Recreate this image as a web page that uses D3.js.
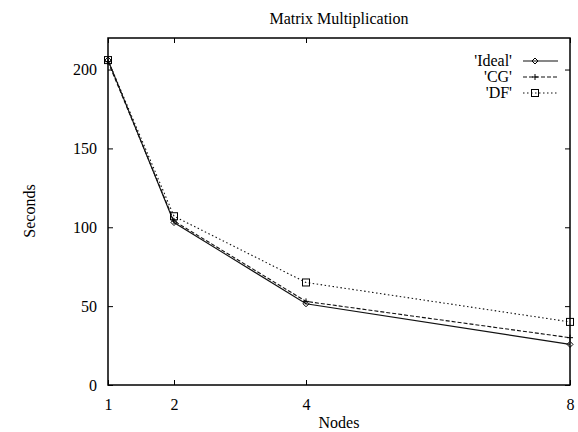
<!DOCTYPE html>
<html><head><meta charset="utf-8">
<script src="https://cdn.jsdelivr.net/npm/d3@7"></script>
<style>body{margin:0;background:#fff}svg text{font-family:"Liberation Serif","Times New Roman",serif !important;fill:#000}</style>
</head><body><svg id="c" width="578" height="432"></svg>
<script>
const nodes = [1, 2, 4, 8];
const ideal = [206, 103, 51.5, 25.75];
const cg = [205, 104, 53, 30];
const df = [206, 107, 65, 40];
const seriesNames = ["'Ideal'", "'CG'", "'DF'"];
const xTicks = [1, 2, 4, 8];
const yTicks = [0, 50, 100, 150, 200];

const svg = d3.select("#c");
const L = 108, R = 570, T = 38, B = 385;
const x = d3.scaleLinear().domain([1, 8]).range([L, R]);
const y = d3.scaleLinear().domain([0, 220]).range([B, T]);
const fs = 16;

svg.append("rect").attr("x", L).attr("y", T).attr("width", R - L).attr("height", B - T)
  .attr("fill", "none").attr("stroke", "#000").attr("stroke-width", 1.5);

const tl = 5;
const gl = svg.append("g").attr("transform", `translate(${L},0)`)
  .call(d3.axisLeft(y).tickValues(yTicks).tickFormat(d3.format("d")).tickSizeInner(-tl).tickSizeOuter(0).tickPadding(11));
const gr = svg.append("g").attr("transform", `translate(${R},0)`)
  .call(d3.axisRight(y).tickValues(yTicks).tickSizeInner(-tl).tickSizeOuter(0).tickFormat(""));
const gb = svg.append("g").attr("transform", `translate(0,${B})`)
  .call(d3.axisBottom(x).tickValues(xTicks).tickFormat(d3.format("d")).tickSizeInner(-tl).tickSizeOuter(0).tickPadding(14));
const gt = svg.append("g").attr("transform", `translate(0,${T})`)
  .call(d3.axisTop(x).tickValues(xTicks).tickSizeInner(-tl).tickSizeOuter(0).tickFormat(""));
[gl, gr, gb, gt].forEach(g => {
  g.attr("font-family", null).attr("font-size", null);
  g.select(".domain").remove();
  g.selectAll("line").attr("stroke", "#000").attr("stroke-width", 1);
  g.selectAll("text").style("font-size", fs + "px").attr("fill", "#000");
});

svg.append("text").attr("x", 339).attr("y", 24).attr("text-anchor", "middle").style("font-size", fs + "px").text("Matrix Multiplication");
svg.append("text").attr("x", 339).attr("y", 428).attr("text-anchor", "middle").style("font-size", fs + "px").text("Nodes");
svg.append("text").attr("transform", "translate(35,211) rotate(-90)").attr("text-anchor", "middle").style("font-size", fs + "px").text("Seconds");

const data = [ideal, cg, df];
const dash = [null, "4,2", "1.5,2.5"];
const line = d3.line().x((d, i) => x(nodes[i])).y(d => y(d));

function marker(g, k, cx, cy) {
  if (k === 0) {
    g.append("path").attr("d", `M${cx},${cy-3}L${cx+3},${cy}L${cx},${cy+3}L${cx-3},${cy}Z`)
      .attr("fill", "none").attr("stroke", "#000").attr("stroke-width", 1);
  } else if (k === 1) {
    g.append("path").attr("d", `M${cx-3},${cy}H${cx+3}M${cx},${cy-3}V${cy+3}`)
      .attr("stroke", "#000").attr("stroke-width", 1);
  } else {
    g.append("rect").attr("x", cx - 3.5).attr("y", cy - 3.5).attr("width", 7).attr("height", 7)
      .attr("fill", "none").attr("stroke", "#000").attr("stroke-width", 1);
  }
}

data.forEach((vals, k) => {
  const g = svg.append("g");
  g.append("path").attr("d", line(vals)).attr("fill", "none").attr("stroke", "#111")
    .attr("stroke-width", 1.1).attr("stroke-dasharray", dash[k]);
  vals.forEach((v, i) => marker(g, k, x(nodes[i]), y(v)));
  const ly = 61 + k * 16;
  svg.append("text").attr("x", 512).attr("y", ly + 5).attr("text-anchor", "end").style("font-size", fs + "px").text(seriesNames[k]);
  g.append("line").attr("x1", 523).attr("x2", 558).attr("y1", ly).attr("y2", ly)
    .attr("stroke", "#111").attr("stroke-width", 1.1).attr("stroke-dasharray", dash[k]);
  marker(g, k, 535, ly);
});
</script></body></html>
